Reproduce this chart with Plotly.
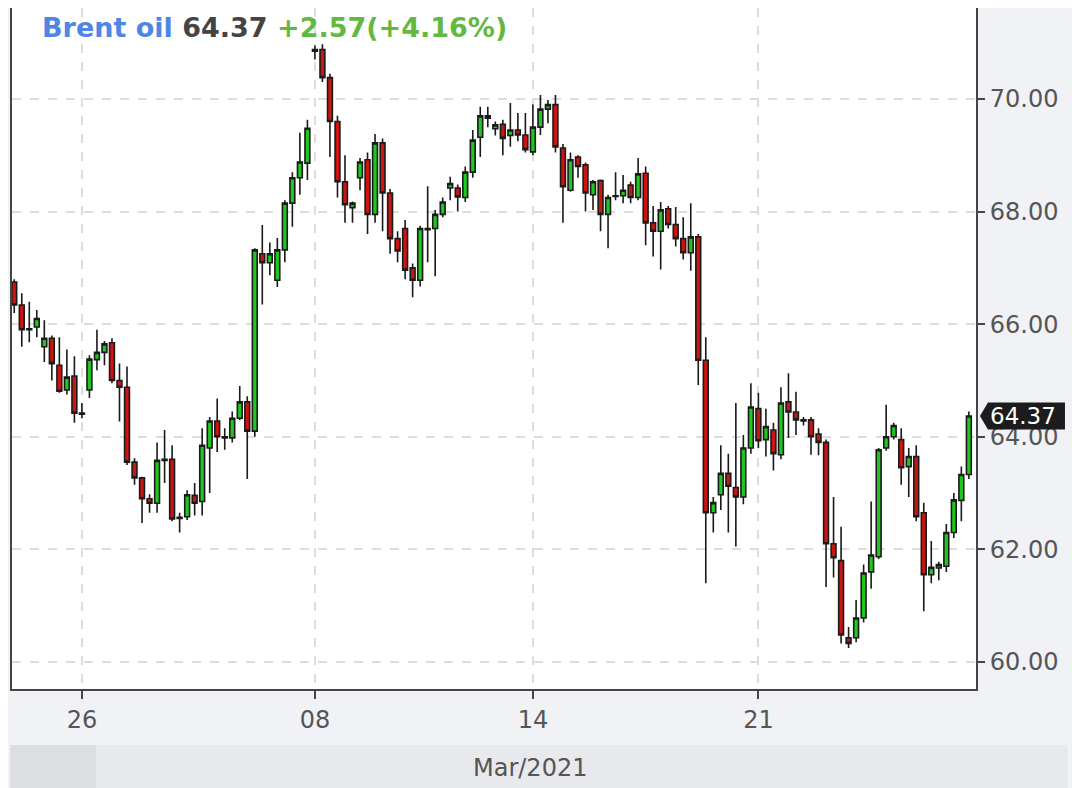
import plotly.graph_objects as go

# Brent oil, 4h candles, late Feb - Mar 2021
opens = [66.75, 66.34, 65.90, 65.95, 65.60, 65.75, 65.27, 64.83, 65.08, 64.42,
         64.83, 65.37, 65.50, 65.67, 65.00, 64.88, 63.55, 63.27, 62.90, 62.82,
         63.58, 63.60, 62.55, 62.58, 62.96, 62.85, 63.80, 64.28, 64.00, 63.98,
         64.33, 64.62, 64.10, 67.25, 67.09, 66.78, 67.32, 68.15, 68.60, 68.86,
         70.85, 70.88, 70.38, 69.60, 68.53, 68.07, 68.60, 68.92, 67.95, 69.22,
         68.33, 67.52, 67.70, 67.00, 66.78, 67.68, 67.70, 67.95, 68.42, 68.42,
         68.25, 68.70, 69.32, 69.70, 69.47, 69.55, 69.35, 69.45, 69.36, 69.06,
         69.50, 69.82, 69.90, 69.13, 68.38, 68.97, 68.83, 68.30, 68.55, 67.95,
         68.27, 68.28, 68.47, 68.25, 68.68, 67.80, 67.65, 68.05, 67.77, 67.52,
         67.27, 67.55, 65.36, 62.65, 62.97, 63.35, 63.10, 62.93, 63.80, 64.50,
         63.95, 64.12, 63.68, 64.62, 64.44, 64.30, 64.30, 64.05, 63.90, 62.10,
         61.80, 60.43, 60.43, 60.78, 61.60, 61.87, 63.80, 64.00, 63.95, 63.47,
         63.65, 62.65, 61.55, 61.67, 61.70, 62.30, 62.87, 63.33]
highs = [66.80, 66.55, 66.40, 66.25, 66.07, 65.80, 65.77, 65.55, 65.43, 64.60,
         65.45, 65.90, 65.70, 65.75, 65.30, 65.25, 63.62, 63.29, 62.98, 63.90,
         64.12, 63.85, 62.65, 63.05, 63.18, 64.15, 64.35, 64.68, 64.15, 64.45,
         64.90, 64.72, 67.35, 67.76, 67.45, 67.53, 68.20, 68.70, 69.40, 69.63,
         70.95, 70.97, 70.45, 69.70, 69.00, 68.18, 68.95, 69.05, 69.38, 69.30,
         68.40, 67.65, 67.85, 67.08, 67.75, 68.45, 68.03, 68.25, 68.62, 68.48,
         68.80, 69.45, 69.86, 69.86, 69.60, 69.63, 69.93, 69.75, 69.75, 69.90,
         70.07, 69.98, 70.07, 69.20, 69.05, 69.00, 68.87, 68.56, 68.57, 68.30,
         68.70, 68.65, 68.53, 68.95, 68.80, 68.10, 68.17, 68.10, 68.08, 67.90,
         68.15, 67.60, 65.77, 62.93, 63.85, 63.70, 64.60, 64.03, 64.95, 64.78,
         64.50, 64.25, 64.88, 65.13, 64.80, 64.35, 64.35, 64.15, 63.95, 62.93,
         62.40, 60.62, 61.10, 61.73, 62.85, 63.80, 64.57, 64.25, 64.15, 63.80,
         63.85, 62.83, 62.15, 61.78, 62.45, 63.00, 63.47, 64.45]
lows = [66.20, 65.60, 65.68, 65.77, 65.33, 65.00, 64.78, 64.75, 64.25, 64.33,
        64.69, 65.18, 65.27, 64.95, 64.27, 63.50, 63.15, 62.47, 62.65, 62.65,
        63.18, 62.50, 62.30, 62.52, 62.60, 62.60, 63.00, 63.73, 63.77, 63.90,
        64.30, 63.25, 64.00, 66.35, 66.87, 66.66, 67.10, 67.73, 68.30, 68.56,
        70.70, 70.30, 68.97, 68.25, 67.80, 67.80, 68.38, 67.60, 67.80, 67.65,
        67.25, 67.10, 66.80, 66.48, 66.67, 67.10, 66.85, 67.90, 68.20, 68.00,
        68.17, 68.60, 68.97, 69.50, 69.35, 69.00, 69.15, 69.25, 69.05, 69.00,
        69.36, 69.57, 69.05, 67.80, 68.35, 68.60, 68.00, 68.03, 67.65, 67.35,
        68.20, 68.15, 68.15, 68.20, 67.40, 67.20, 66.97, 67.70, 67.38, 67.15,
        66.95, 64.92, 61.40, 62.30, 62.70, 62.30, 62.05, 62.80, 63.70, 63.80,
        63.65, 63.40, 63.60, 63.98, 64.03, 64.20, 63.68, 63.67, 61.33, 61.50,
        60.33, 60.25, 60.35, 60.70, 61.30, 61.83, 63.75, 63.95, 63.15, 62.93,
        62.50, 60.90, 61.40, 61.45, 61.60, 62.20, 62.50, 63.25]
closes = [66.34, 65.90, 65.92, 66.10, 65.75, 65.30, 64.81, 65.06, 64.42, 64.40,
          65.38, 65.50, 65.65, 65.00, 64.88, 63.55, 63.27, 62.90, 62.82, 63.58,
          63.60, 62.54, 62.57, 62.97, 62.82, 63.85, 64.28, 64.00, 63.98, 64.33,
          64.62, 64.10, 67.32, 67.09, 67.25, 67.32, 68.15, 68.60, 68.88, 69.48,
          70.88, 70.38, 69.60, 68.53, 68.12, 68.15, 68.88, 67.95, 69.22, 68.33,
          67.52, 67.30, 66.96, 66.78, 67.70, 67.70, 67.95, 68.17, 68.50, 68.26,
          68.70, 69.27, 69.70, 69.66, 69.54, 69.30, 69.45, 69.36, 69.10, 69.50,
          69.82, 69.90, 69.15, 68.44, 68.92, 68.80, 68.33, 68.53, 67.95, 68.25,
          68.28, 68.38, 68.25, 68.67, 67.80, 67.65, 68.03, 67.77, 67.52, 67.27,
          67.55, 65.36, 62.65, 62.83, 63.35, 63.12, 62.93, 63.80, 64.53, 63.93,
          64.18, 63.70, 64.60, 64.44, 64.30, 64.28, 64.00, 63.90, 62.10, 61.85,
          60.48, 60.33, 60.78, 61.58, 61.90, 63.77, 64.00, 64.20, 63.45, 63.65,
          62.58, 61.55, 61.68, 61.73, 62.30, 62.88, 63.33, 64.37]

day_ticks = [9, 40, 69, 99]
day_labels = ["26", "08", "14", "21"]
price_ticks = [60, 62, 64, 66, 68, 70]

last = closes[-1]
change = 2.57
change_pct = 4.16

bars = list(range(len(closes)))

fig = go.Figure()
fig.add_trace(go.Candlestick(
    x=bars, open=opens, high=highs, low=lows, close=closes,
    increasing=dict(line=dict(color="#1a1a1a", width=1.6), fillcolor="#1ec81e"),
    decreasing=dict(line=dict(color="#1a1a1a", width=1.6), fillcolor="#cc1410"),
    whiskerwidth=0, showlegend=False, hoverinfo="skip",
))

tick_font = dict(family="DejaVu Sans", size=24, color="#555555")

# the page adds an 8px body margin, so the figure is 8px smaller and margins shifted
fig.update_layout(
    width=1072, height=780, autosize=False,
    margin=dict(l=4, r=104, t=0, b=99),
    paper_bgcolor="#f0f2f5", plot_bgcolor="white",
    boxgap=0.08,
    xaxis=dict(
        range=[-0.3, 127.95], rangeslider=dict(visible=False),
        tickvals=day_ticks, ticktext=day_labels, tickfont=tick_font,
        ticks="outside", ticklen=8, tickwidth=1.5, tickcolor="#444",
        showline=True, linecolor="#444", linewidth=2,
        showgrid=True, gridcolor="#dddddd", griddash="dash", gridwidth=1.5,
        zeroline=False, fixedrange=True,
    ),
    yaxis=dict(
        side="right", range=[59.52, 71.616],
        tickvals=price_ticks, tickformat=".2f", tickfont=tick_font,
        ticks="outside", ticklen=7, tickwidth=1.5, tickcolor="#444",
        showline=True, mirror=True, linecolor="#444", linewidth=2,
        showgrid=True, gridcolor="#dddddd", griddash="dash", gridwidth=1.5,
        zeroline=False, fixedrange=True,
    ),
)

# bottom month band
fig.add_shape(type="rect", xref="paper", yref="paper", x0=-0.002, x1=1.095,
              y0=-0.0822, y1=-0.1454, fillcolor="#e7e9ec", line_width=0, layer="below")
fig.add_shape(type="rect", xref="paper", yref="paper", x0=-0.002, x1=0.087,
              y0=-0.0822, y1=-0.1454, fillcolor="#dcdfe2", line_width=0, layer="below")
fig.add_annotation(text="Mar/2021", xref="paper", yref="paper", x=0.537, y=-0.116,
                   showarrow=False, font=tick_font, xanchor="center", yanchor="middle")

# title
fig.add_annotation(
    xref="paper", yref="paper", x=0.029, y=0.972, xanchor="left", yanchor="middle",
    showarrow=False, font=dict(family="DejaVu Sans", size=27),
    text=("<b><span style='color:#4f86e6'>Brent oil</span> "
          "<span style='color:#444444'>%.2f</span> "
          "<span style='color:#63b840'>+%.2f(+%.2f%%)</span></b>" % (last, change, change_pct)),
)

# last price marker on the right axis
h = 0.24
fig.add_shape(type="path", xref="paper", yref="y", layer="above",
              path="M 1.0041,%f L 1.0124,%f L 1.0923,%f L 1.0923,%f L 1.0124,%f Z"
                   % (last, last + h, last + h, last - h, last - h),
              fillcolor="#1c1c1c", line_width=0)
fig.add_annotation(text="%.2f" % last, xref="paper", yref="y", x=1.0125, y=last,
                   xanchor="left", yanchor="middle", showarrow=False,
                   font=dict(family="DejaVu Sans", size=23, color="white"))

fig.write_html("out.html")
